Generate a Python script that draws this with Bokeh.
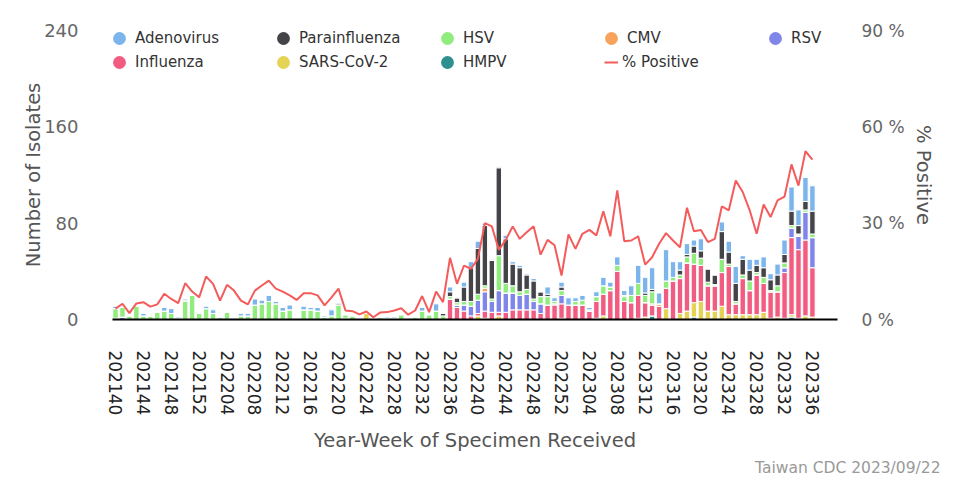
import math
from bokeh.plotting import figure
from bokeh.models import (Range1d, LinearAxis, FixedTicker, PrintfTickFormatter,
                          Legend, LegendItem, Title, ColumnDataSource)
from bokeh.embed import file_html
from bokeh.resources import INLINE

# ---- categories (year-week) ----
weeks = ([f"2021{w:02d}" for w in range(40, 53)] +
         [f"2022{w:02d}" for w in range(1, 53)] +
         [f"2023{w:02d}" for w in range(1, 37)])

# ---- series values (isolates per week) ----
adenovirus = [2, 1, 0, 0, 2, 0, 0, 3, 4, 1, 1, 0, 0, 2, 3, 0, 0, 1, 2, 2,
              5, 3, 5, 2, 3, 4, 0, 3, 2, 3, 1, 5, 1, 0, 0, 0, 0, 0, 0, 1,
              1, 0, 0, 0, 3, 0, 6, 0, 4, 0, 4, 5, 6, 2, 1, 1, 3, 2, 2, 1,
              2, 0, 6, 3, 4, 6, 3, 4, 2, 4, 7, 4, 7, 4, 8, 15, 13, 18, 9, 26,
              13, 7, 9, 5, 10, 0, 0, 8, 9, 14, 3, 9, 5, 9, 5, 9, 12, 20, 13, 20,
              21]
parainfluenza = [0, 0, 0, 0, 0, 0, 0, 0, 0, 0, 1, 0, 0, 0, 0, 0, 0, 0, 0, 0,
                 0, 0, 0, 0, 0, 0, 0, 0, 0, 0, 0, 0, 1, 0, 0, 0, 0, 0, 0, 0,
                 0, 0, 0, 0, 0, 0, 0, 2, 4, 4, 12, 28, 38, 50, 32, 73, 37, 18, 20, 12,
                 15, 4, 2, 0, 3, 0, 0, 0, 0, 0, 0, 0, 0, 1, 0, 0, 2, 2, 0, 0,
                 0, 4, 2, 6, 6, 11, 8, 23, 10, 15, 13, 9, 6, 8, 9, 9, 7, 12, 7, 7,
                 19]
hsv = [8, 8, 3, 11, 3, 3, 6, 7, 5, 1, 15, 20, 5, 9, 5, 2, 6, 0, 3, 3,
       12, 13, 15, 13, 7, 8, 1, 8, 8, 7, 2, 3, 12, 3, 3, 1, 0, 1, 2, 1,
       1, 4, 1, 2, 7, 4, 7, 3, 2, 2, 3, 4, 5, 2, 2, 29, 8, 6, 3, 4,
       2, 6, 7, 2, 4, 0, 3, 4, 1, 4, 7, 3, 5, 4, 6, 10, 6, 10, 0, 6,
       3, 3, 5, 9, 6, 3, 1, 11, 2, 2, 3, 8, 2, 5, 1, 5, 4, 2, 1, 2,
       3]
cmv = [0, 0, 0, 0, 0, 0, 0, 0, 0, 0, 0, 0, 0, 0, 0, 0, 0, 0, 0, 0,
       0, 0, 0, 0, 0, 0, 0, 0, 0, 0, 0, 0, 0, 0, 0, 0, 0, 0, 0, 0,
       0, 0, 0, 0, 0, 0, 0, 0, 0, 0, 0, 0, 0, 3, 0, 0, 0, 0, 0, 0,
       0, 0, 0, 0, 0, 0, 0, 0, 0, 0, 0, 0, 0, 0, 0, 0, 0, 1, 2, 0,
       0, 0, 0, 0, 0, 0, 0, 0, 0, 0, 0, 0, 0, 0, 0, 0, 0, 0, 1, 0,
       0]
rsv = [1, 2, 0, 0, 0, 0, 0, 0, 0, 0, 0, 0, 0, 0, 0, 0, 0, 0, 0, 0,
       0, 0, 0, 0, 0, 0, 0, 0, 0, 0, 0, 0, 0, 0, 0, 0, 0, 0, 0, 0,
       0, 0, 0, 0, 0, 0, 0, 0, 0, 2, 5, 8, 11, 16, 9, 18, 16, 14, 12, 13,
       7, 8, 0, 1, 7, 0, 0, 0, 0, 0, 0, 0, 0, 0, 0, 0, 0, 0, 0, 0,
       0, 0, 0, 0, 0, 0, 0, 0, 0, 0, 0, 0, 0, 0, 0, 0, 4, 8, 11, 23,
       25]
influenza = [0, 0, 0, 0, 0, 0, 0, 0, 0, 0, 0, 0, 0, 0, 0, 0, 0, 0, 0, 0,
             0, 0, 0, 0, 0, 0, 0, 0, 0, 0, 0, 0, 0, 0, 0, 0, 0, 0, 0, 0,
             0, 0, 0, 0, 0, 0, 0, 0, 17, 10, 7, 3, 2, 6, 6, 3, 6, 8, 8, 8,
             8, 5, 12, 12, 12, 12, 12, 12, 7, 14, 18, 24, 40, 15, 14, 19, 12, 9, 11, 17,
             32, 29, 40, 32, 30, 21, 21, 28, 40, 9, 30, 20, 33, 24, 22, 21, 38, 64, 57, 63,
             41]
sars_cov_2 = [0, 0, 0, 0, 0, 0, 0, 0, 0, 0, 0, 0, 0, 0, 0, 0, 0, 0, 0, 0,
              0, 0, 0, 0, 0, 0, 0, 0, 0, 0, 0, 0, 0, 1, 0, 0, 5, 0, 0, 0,
              0, 0, 0, 0, 0, 0, 0, 0, 0, 0, 0, 0, 3, 1, 0, 3, 0, 0, 0, 0,
              0, 0, 0, 0, 1, 0, 0, 0, 0, 1, 3, 0, 0, 0, 0, 1, 2, 0, 0, 9,
              0, 5, 7, 12, 15, 7, 7, 11, 4, 4, 4, 4, 4, 6, 1, 2, 1, 2, 1, 3,
              2]
hmpv = [0, 0, 0, 0, 0, 0, 0, 0, 0, 0, 0, 0, 0, 0, 0, 0, 0, 0, 0, 0,
        0, 0, 0, 0, 0, 0, 0, 0, 0, 0, 0, 0, 0, 0, 0, 0, 0, 0, 0, 0,
        0, 0, 0, 0, 0, 0, 0, 0, 0, 0, 0, 0, 0, 0, 0, 0, 0, 0, 0, 0,
        0, 0, 0, 0, 0, 0, 0, 0, 0, 0, 0, 0, 0, 0, 0, 0, 0, 3, 0, 0,
        0, 0, 0, 2, 0, 0, 0, 0, 0, 0, 0, 0, 0, 0, 0, 0, 0, 2, 0, 0,
        0]
pct_positive = [3.4, 4.9, 2.0, 5.0, 5.4, 4.0, 4.7, 8.0, 6.4, 5.1,
                11.3, 8.7, 6.9, 13.4, 11.1, 5.9, 10.8, 9.0, 5.9, 4.7,
                9.0, 10.6, 12.1, 9.6, 8.7, 7.5, 6.1, 8.2, 8.2, 7.5,
                4.4, 6.9, 9.6, 2.8, 2.6, 1.6, 2.5, 0.7, 2.2, 2.3,
                2.8, 3.5, 1.5, 2.8, 7.3, 2.3, 8.7, 5.4, 19.2, 11.1,
                16.8, 15.8, 18.9, 30.0, 29.0, 21.7, 24.8, 29.0, 25.1, 27.2,
                29.0, 20.2, 24.8, 23.1, 13.7, 26.5, 22.0, 26.7, 27.9, 26.2,
                33.7, 25.9, 40.2, 24.4, 24.6, 25.9, 17.1, 19.4, 23.6, 26.9,
                24.6, 22.5, 34.8, 27.5, 27.9, 24.1, 25.1, 35.2, 34.0, 43.3,
                39.7, 34.0, 26.7, 35.8, 31.9, 37.1, 38.3, 48.3, 41.7, 52.4,
                49.8]

left_ticks = [0, 80, 160, 240]
right_ticks = [0, 30, 60, 90]

# legend/series order as in the reference legend; stack bottom-up is reversed
legend_names = ["Adenovirus", "Parainfluenza", "HSV", "CMV", "RSV",
                "Influenza", "SARS-CoV-2", "HMPV"]
legend_colors = ["#7cb5ec", "#434348", "#90ed7d", "#f7a35c", "#8085e9",
                 "#f15c80", "#e4d354", "#2b908f"]
line_color = "#f45b5b"

FONT = "DejaVu Sans"
xs = list(range(len(weeks)))
data = dict(x=xs, week=weeks)
for name, vals in zip(legend_names, [adenovirus, parainfluenza, hsv, cmv, rsv,
                                     influenza, sars_cov_2, hmpv]):
    data[name] = vals
src = ColumnDataSource(data)

FL, FT, FW, FH = 112, 30, 725, 289   # frame geometry (figure coords)
W, H = 956, 478
p = figure(width=W, height=H, output_backend="svg", toolbar_location=None,
           x_range=Range1d(-0.43, 103.6),
           y_range=Range1d(left_ticks[0], left_ticks[-1]),
           min_border_left=FL, min_border_top=FT,
           min_border_right=W - FL - FW, min_border_bottom=H - FT - FH)
p.extra_y_ranges = {"pct": Range1d(right_ticks[0], right_ticks[-1])}
p.outline_line_color = None
p.grid.visible = False
p.background_fill_color = "white"

stack_names = legend_names[::-1]
stack_colors = legend_colors[::-1]
p.vbar_stack(stack_names, x="x", width=0.78, color=stack_colors,
             line_color="white", line_width=1, source=src)
line_r = p.line(xs, pct_positive, y_range_name="pct", line_color=line_color,
                line_width=2)

TITLE_SIZE = "19.5px"

# x axis
xa = p.xaxis[0]
tick_idx = list(range(0, len(weeks), 4))
xa.ticker = FixedTicker(ticks=tick_idx)
xa.major_label_overrides = {i: weeks[i] for i in tick_idx}
xa.major_label_orientation = "vertical"
xa.major_label_text_font = FONT
xa.major_label_text_font_size = "17px"
xa.major_label_text_color = "#222222"
xa.major_label_standoff = 25
xa.major_tick_line_color = None
xa.minor_tick_line_color = None
xa.axis_line_color = "black"
xa.axis_line_width = 2
xa.axis_label = "Year-Week of Specimen Received"
xa.axis_label_text_font = FONT
xa.axis_label_text_font_size = TITLE_SIZE
xa.axis_label_text_font_style = "normal"
xa.axis_label_text_color = "#555555"
xa.axis_label_standoff = 11

# left axis
ya = p.yaxis[0]
ya.ticker = FixedTicker(ticks=left_ticks)
ya.axis_line_color = None
ya.major_tick_line_color = None
ya.minor_tick_line_color = None
ya.major_label_text_font = FONT
ya.major_label_text_font_size = "18px"
ya.major_label_text_color = "#666666"
ya.major_label_standoff = 28
ya.axis_label = "Number of Isolates"
ya.axis_label_text_font = FONT
ya.axis_label_text_font_size = TITLE_SIZE
ya.axis_label_text_font_style = "normal"
ya.axis_label_text_color = "#555555"
ya.axis_label_standoff = -4

# right axis
ra = LinearAxis(y_range_name="pct", ticker=FixedTicker(ticks=right_ticks),
                formatter=PrintfTickFormatter(format="%d %%"))
ra.axis_line_color = None
ra.major_tick_line_color = None
ra.minor_tick_line_color = None
ra.major_label_text_font = FONT
ra.major_label_text_font_size = "17px"
ra.major_label_text_color = "#666666"
ra.major_label_standoff = 18
ra.axis_label = "% Positive"
ra.axis_label_text_font = FONT
ra.axis_label_text_font_size = TITLE_SIZE
ra.axis_label_text_font_style = "normal"
ra.axis_label_text_color = "#555555"
ra.axis_label_standoff = 4
p.add_layout(ra, "right")

# legend: circle renderers with no visible point, placed in a 5 x 2 grid
nan = float("nan")
FRAME_BOTTOM = FT + FH


def add_legend(label, renderer, col, row, gw=32, standoff=-8):
    cx = 119 + 164 * col
    cy = 38 + 24 * row
    lg = Legend(items=[LegendItem(label=label, renderers=[renderer])],
                location=(cx - FL - gw / 2, FRAME_BOTTOM - cy - 16),
                orientation="vertical", glyph_width=gw, glyph_height=32,
                label_standoff=standoff, padding=0, margin=0, spacing=0,
                border_line_color=None, background_fill_alpha=0,
                label_text_font=FONT, label_text_font_size="15px",
                label_text_color="#333333")
    p.add_layout(lg)


for k, (name, col) in enumerate(zip(legend_names, legend_colors)):
    r = p.scatter([nan], [nan], size=13, marker="circle", fill_color=col,
                  line_color=None)
    add_legend(name, r, k % 5, k // 5)
add_legend("% Positive", line_r, 3, 1, gw=14, standoff=4)

# credit text
p.add_layout(Title(text="Taiwan CDC 2023/09/22", align="right", offset=-103,
                   text_font=FONT, text_font_size="15.5px",
                   text_font_style="normal", text_color="#999999",
                   standoff=3), "below")

open("out.html", "w").write(file_html(p, INLINE))
